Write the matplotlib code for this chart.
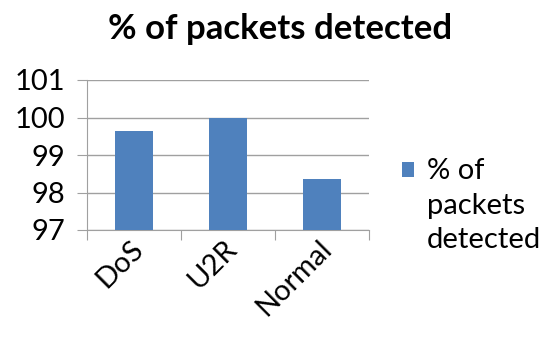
import matplotlib.pyplot as plt
import matplotlib.transforms as mtransforms
import numpy as np
from matplotlib.patches import Rectangle
from matplotlib.legend_handler import HandlerPatch

# === Data ===
categories = ["DoS", "U2R", "Normal"]
detected = [99.63, 100.0, 98.35]
series_name = "% of\npackets\ndetected"
y_ticks = [97, 98, 99, 100, 101]

plt.rcParams['font.family'] = ['Lato', 'DejaVu Sans']
FS = 21

fig = plt.figure(figsize=(5.44, 3.37), dpi=100)
ax = fig.add_axes([87/544, 1 - 230/337, (369-87)/544, (230-80)/337])

x = np.arange(len(categories))
bars = ax.bar(x, detected, width=0.4, color="#4f81bd", label=series_name, zorder=3)

ax.set_ylim(97, 101)
ax.set_xlim(-0.5, len(categories) - 0.5)
ax.set_yticks(y_ticks)
ax.set_yticklabels([str(t) for t in y_ticks], fontsize=FS)
ax.yaxis.grid(True, color="#a0a0a0", linewidth=1, zorder=0)

# category tick marks on boundaries, labels at centers
ax.set_xticks(np.arange(len(categories) + 1) - 0.5)
ax.set_xticklabels([])
ax.set_xticks(x, minor=True)
ax.set_xticklabels(categories, minor=True, rotation=45, ha='right',
                   rotation_mode='anchor', fontsize=FS)
ax.tick_params(axis='x', which='major', length=7, color="#a0a0a0", direction='out')
ax.tick_params(axis='x', which='minor', length=0, pad=4)
ax.tick_params(axis='y', length=7, color="#a0a0a0", pad=9)

# nudge the slanted labels a bit to the left
shift = mtransforms.ScaledTranslation(-4/100, 0, fig.dpi_scale_trans)
for lbl in ax.get_xticklabels(minor=True):
    lbl.set_transform(lbl.get_transform() + shift)

for side in ['top', 'right']:
    ax.spines[side].set_visible(False)
for side in ['left', 'bottom']:
    ax.spines[side].set_color("#a0a0a0")

fig.suptitle("% of packets detected", fontsize=25, fontweight='bold', x=0.515, y=0.96)


# legend marker sits next to the first line of the label
def top_patch(legend, orig_handle, xdescent, ydescent, width, height, fontsize):
    return Rectangle((-xdescent, -ydescent + fontsize * 1.25), width, height)


leg = fig.legend(handles=[bars[0]], labels=[series_name], loc='upper left',
                 bbox_to_anchor=(376/544, 1 - 132/337), frameon=False, fontsize=FS,
                 handlelength=0.4, handleheight=0.4, handletextpad=0.45,
                 handler_map={Rectangle: HandlerPatch(patch_func=top_patch)})
for t in leg.get_texts():
    t.set_linespacing(1.4)

fig.savefig("out.png", dpi=100)
